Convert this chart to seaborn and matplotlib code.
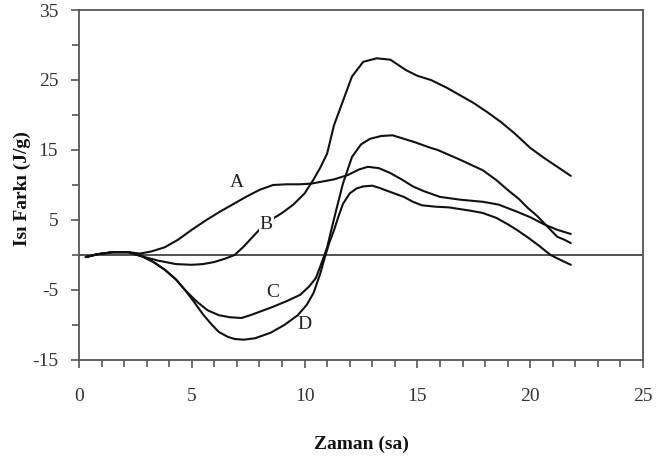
import matplotlib
matplotlib.use("Agg")
import matplotlib.pyplot as plt
import seaborn as sns
import pandas as pd
from matplotlib.ticker import MultipleLocator

# ---- data ----
A_x = [0.3, 0.8, 1.5, 2.2, 2.7, 3.2, 3.8, 4.4, 5.0, 5.6, 6.2, 6.8, 7.4, 8.0, 8.6, 9.2, 9.8,
       10.3, 10.8, 11.3, 11.9, 12.4, 12.8, 13.3, 13.8, 14.3, 14.8, 15.3, 16.0, 16.9, 17.9,
       18.6, 19.4, 20.0, 20.6, 21.2, 21.8]
A_y = [-0.3, 0.1, 0.4, 0.4, 0.2, 0.5, 1.1, 2.2, 3.6, 4.9, 6.1, 7.2, 8.3, 9.3, 10.0, 10.1, 10.1,
       10.2, 10.5, 10.8, 11.4, 12.2, 12.6, 12.4, 11.7, 10.8, 9.8, 9.1, 8.3, 7.9, 7.6,
       7.2, 6.2, 5.4, 4.4, 3.6, 3.0]

B_x = [0.3, 0.8, 1.5, 2.2, 2.8, 3.5, 4.3, 5.0, 5.5, 6.0, 6.5, 6.9, 7.3, 7.7, 8.2, 8.6, 9.0,
       9.5, 10.0, 10.4, 10.7, 11.0, 11.3, 11.7, 12.1, 12.6, 13.2, 13.8, 14.5, 15.0, 15.6,
       16.3, 16.9, 17.5, 18.1, 18.7, 19.3, 20.0, 20.6, 21.2, 21.8]
B_y = [-0.3, 0.1, 0.4, 0.4, -0.2, -0.8, -1.3, -1.4, -1.3, -1.0, -0.5, 0.0, 1.2, 2.6, 4.3, 5.2, 6.0,
       7.2, 8.8, 10.8, 12.5, 14.5, 18.5, 22.0, 25.5, 27.6, 28.1, 27.9, 26.4, 25.6, 25.0,
       23.9, 22.8, 21.7, 20.4, 19.0, 17.4, 15.3, 13.9, 12.6, 11.3]

C_x = [0.3, 0.8, 1.5, 2.2, 2.8, 3.3, 3.8, 4.3, 4.7, 5.2, 5.7, 6.2, 6.7, 7.2, 7.6, 8.1, 8.6,
       9.2, 9.8, 10.2, 10.5, 10.7, 11.0, 11.2, 11.4, 11.7, 12.1, 12.5, 12.9, 13.4, 13.9,
       14.4, 14.9, 15.5, 15.9, 16.4, 16.9, 17.5, 17.9, 18.5, 19.0, 19.5, 19.9, 20.3, 20.6,
       20.9, 21.2, 21.5, 21.8]
C_y = [-0.3, 0.1, 0.4, 0.4, -0.2, -1.0, -2.1, -3.5, -5.0, -6.6, -7.9, -8.6, -8.9, -9.0, -8.6, -8.0, -7.4,
       -6.6, -5.7, -4.5, -3.3, -1.6, 1.1, 3.8, 6.4, 10.2, 14.0, 15.8, 16.6, 17.0, 17.1,
       16.6, 16.1, 15.4, 15.0, 14.3, 13.6, 12.7, 12.1, 10.7, 9.3, 8.0, 6.7, 5.6, 4.6,
       3.6, 2.6, 2.2, 1.7]

D_x = [0.3, 0.8, 1.5, 2.2, 2.8, 3.3, 3.8, 4.3, 4.7, 5.1, 5.5, 5.9, 6.2, 6.6, 6.9, 7.3, 7.8,
       8.5, 9.1, 9.7, 10.1, 10.4, 10.7, 10.9, 11.1, 11.3, 11.5, 11.7, 12.0, 12.3, 12.6,
       13.0, 13.3, 13.8, 14.4, 14.8, 15.2, 15.8, 16.4, 16.8, 17.4, 17.9, 18.5, 19.0, 19.4,
       19.9, 20.4, 20.9, 21.4, 21.8]
D_y = [-0.3, 0.1, 0.4, 0.4, -0.2, -1.0, -2.1, -3.5, -5.0, -6.7, -8.5, -10.0, -11.0, -11.7, -12.0, -12.1, -11.9,
       -11.1, -10.0, -8.6, -7.1, -5.4, -2.6, -0.3, 1.8, 3.5, 5.5, 7.3, 8.8, 9.5, 9.8,
       9.9, 9.6, 9.0, 8.3, 7.6, 7.1, 6.9, 6.8, 6.6, 6.3, 6.0, 5.3, 4.4, 3.6,
       2.5, 1.3, 0.0, -0.8, -1.4]

labels = ["A", "B", "C", "D"]
label_pos_x = [7.0, 8.3, 8.6, 10.0]
label_pos_y = [10.3, 4.3, -5.4, -10.0]

x_ticks = [0, 5, 10, 15, 20, 25]
y_ticks = [-15, -5, 5, 15, 25, 35]

x_label = "Zaman (sa)"
y_label = "Isı Farkı (J/g)"

# ---- build table ----
frames = []
for name, xs, ys in zip(labels, [A_x, B_x, C_x, D_x], [A_y, B_y, C_y, D_y]):
    frames.append(pd.DataFrame({"Zaman": xs, "Fark": ys, "Eğri": name}))
df = pd.concat(frames, ignore_index=True)

sns.set_style("ticks")
plt.rcParams["font.family"] = ["Liberation Serif", "DejaVu Serif"]
plt.rcParams["axes.unicode_minus"] = False

fig = plt.figure(figsize=(6.56, 4.63), dpi=100)
ax = fig.add_axes([0.1204, 0.2225, 0.8598, 0.7559])

ax.axhline(0, color="#333333", lw=1.2, zorder=1)

sns.lineplot(data=df, x="Zaman", y="Fark", hue="Eğri", units="Eğri",
             estimator=None, sort=False, palette=["#111111"] * 4,
             linewidth=1.5, legend=False, ax=ax, zorder=2)

for t, lx, ly in zip(labels, label_pos_x, label_pos_y):
    bb = dict(facecolor="white", edgecolor="none", pad=0.5) if t == "B" else None
    ax.text(lx, ly, t, fontsize=14, ha="center", va="center", color="#222222",
            bbox=bb, zorder=3)

ax.set_xlim(0, 25)
ax.set_ylim(-15, 35)
ax.set_xticks(x_ticks)
ax.xaxis.set_minor_locator(MultipleLocator(1))
ax.set_yticks(y_ticks)
ax.yaxis.set_minor_locator(MultipleLocator(5))

for s in ax.spines.values():
    s.set_visible(True)
    s.set_color("#555555")
    s.set_linewidth(1.3)

ax.tick_params(axis="both", which="major", direction="out", length=6, width=1.2,
               colors="#555555", labelcolor="#333333", labelsize=14)
ax.tick_params(axis="x", which="major", pad=14)
ax.tick_params(axis="y", which="major", pad=9)
ax.tick_params(axis="both", which="minor", direction="out", length=5, width=1.2,
               colors="#555555")

ax.set_xlabel(x_label, fontsize=14, fontweight="bold", color="#111111")
ax.set_ylabel(y_label, fontsize=14, fontweight="bold", color="#111111")
ax.xaxis.set_label_coords(0.5, -0.215)
ax.yaxis.set_label_coords(-0.085, 0.49)

fig.savefig("out.png", dpi=100)
